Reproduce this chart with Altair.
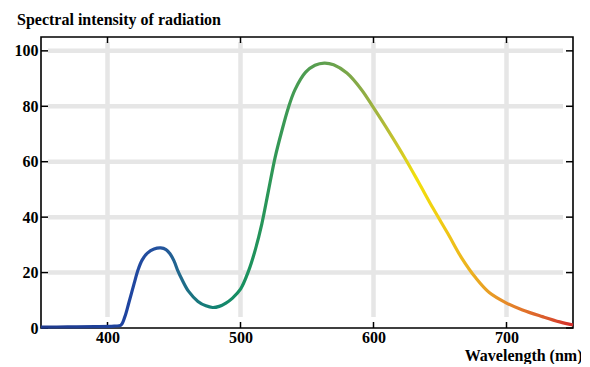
import altair as alt
import pandas as pd

# ---- data ----
wavelength = [350, 370, 390, 405, 410, 413, 416, 420, 423, 426, 430, 435, 440, 444, 447, 450, 453, 456,
              461, 468, 474, 479, 484, 489, 494, 500, 506, 511, 516, 521, 526, 531, 536, 541,
              549, 556, 563, 570, 580, 591, 600, 612, 624, 634, 645, 656, 666, 677, 687, 700,
              712, 727, 740, 750]
intensity = [0.3, 0.4, 0.5, 0.7, 1.0, 4.0, 9.0, 16.0, 21.0, 24.5, 27.0, 28.5, 28.9, 28.3, 26.8, 24.2, 20.5, 17.5,
             13.2, 9.6, 8.0, 7.4, 7.8, 9.0, 10.8, 14.0, 20.5, 28.0, 37.5, 49.5, 61.5, 71.0, 79.5, 86.0,
             92.3, 94.8, 95.6, 95.0, 92.0, 86.0, 79.5, 70.5, 61.0, 52.5, 43.0, 34.0, 25.5, 18.0, 12.8, 9.0,
             6.5, 4.1, 2.2, 1.1]

x_ticks = [400, 500, 600, 700]
y_ticks = [0, 20, 40, 60, 80, 100]
y_grid = [20, 40, 60, 80, 100]

grad_wl = [350, 415, 440, 452, 465, 480, 500, 520, 545, 565, 590, 605, 620, 632, 650, 670, 690, 710, 730, 750]
grad_col = ["#1f3a8c", "#1f44a0", "#24539e", "#22668f", "#1a7580", "#138273", "#169060", "#2a9658",
            "#4a9c52", "#62a04e", "#8aab46", "#a8b63c", "#d0c828", "#f2e00c", "#f0cc14", "#ecb41e",
            "#e89a26", "#e2782a", "#da5a2c", "#d42a2a"]

X_MIN, X_MAX = 350, 750
Y_MIN, Y_MAX = 0, 105
W, H = 532, 291
FONT = "Liberation Serif"

curve_df = pd.DataFrame({"wl": wavelength, "I": intensity})
xt_df = pd.DataFrame({"wl": x_ticks})
yt_df = pd.DataFrame({"I": y_ticks})
yg_df = pd.DataFrame({"I": y_grid})

xs = alt.Scale(domain=[X_MIN, X_MAX], nice=False, zero=False)
ys = alt.Scale(domain=[Y_MIN, Y_MAX], nice=False, zero=False)

xaxis = alt.Axis(values=x_ticks, ticks=False, domain=False, grid=False, format="d",
                 labelFont=FONT, labelFontSize=16, labelFontWeight="bold", labelColor="black",
                 labelPadding=1,
                 titleFont=FONT, titleFontSize=16, titleFontWeight="bold", titleColor="black",
                 titleAlign="right", titleBaseline="alphabetic", titleX=541, titleY=32)
yaxis = alt.Axis(values=y_ticks, ticks=False, domain=False, grid=False, format="d",
                 labelFont=FONT, labelFontSize=16, labelFontWeight="bold", labelColor="black",
                 labelPadding=3, title=None)


def X():
    return alt.X("wl:Q", scale=xs, axis=xaxis, title="Wavelength (nm)")


def Y():
    return alt.Y("I:Q", scale=ys, axis=yaxis, title=None)


GRID = "#e6e6e6"

vgrid = alt.Chart(xt_df).mark_rule(color=GRID, strokeWidth=4.5).encode(
    x=X(), y=alt.value(5), y2=alt.value(280))
hgrid = alt.Chart(yg_df).mark_rule(color=GRID, strokeWidth=4.5).encode(
    y=Y(), x=alt.value(7), x2=alt.value(522))

tick_style = dict(color="black", strokeWidth=1.5)
tl = alt.Chart(yt_df).mark_rule(**tick_style).encode(y=Y(), x=alt.value(0), x2=alt.value(7))
tr = alt.Chart(yt_df).mark_rule(**tick_style).encode(y=Y(), x=alt.value(W - 7), x2=alt.value(W))
tb = alt.Chart(xt_df).mark_rule(**tick_style).encode(x=X(), y=alt.value(H - 6), y2=alt.value(H))
tt = alt.Chart(xt_df).mark_rule(**tick_style).encode(x=X(), y=alt.value(0), y2=alt.value(6))

gradient = alt.Gradient(
    gradient="linear",
    stops=[alt.GradientStop(offset=(w - X_MIN) / (X_MAX - X_MIN), color=c) for w, c in zip(grad_wl, grad_col)],
    x1=0, x2=1, y1=0, y2=0)

curve = alt.Chart(curve_df).mark_line(color=gradient, strokeWidth=3.2, interpolate="catmull-rom").encode(
    x=X(), y=Y())

chart = alt.layer(vgrid, hgrid, tl, tr, tb, tt, curve).properties(
    width=W, height=H,
    title=alt.TitleParams("Spectral intensity of radiation", anchor="start", frame="group",
                          dx=-24, dy=19, offset=14, baseline="alphabetic",
                          font=FONT, fontSize=16, fontWeight="bold", color="black"),
    autosize=alt.AutoSizeParams(type="none"),
    padding={"left": 33, "top": 29, "right": 8, "bottom": 36},
).configure_view(stroke="black", strokeWidth=1.6)

chart.save("out.html", embed_options={"renderer": "svg", "actions": False})
